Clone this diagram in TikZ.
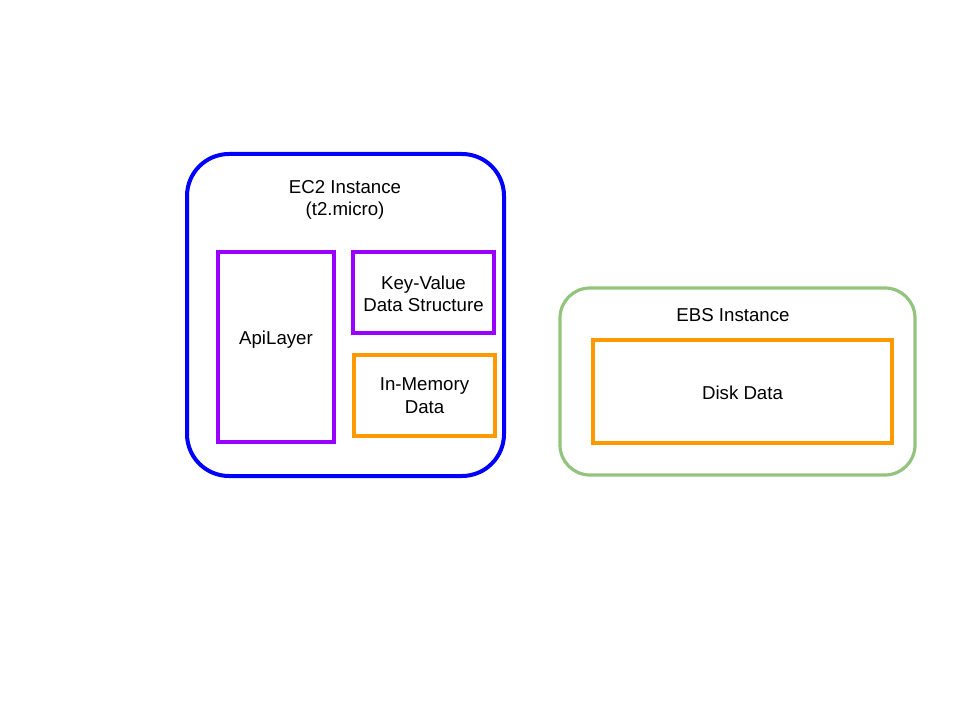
\documentclass[tikz,border=0pt]{standalone}
\usepackage{fontspec}
\setmainfont{Liberation Sans}
\definecolor{ecblue}{HTML}{0000FF}
\definecolor{kvpurple}{HTML}{9900FF}
\definecolor{memorange}{HTML}{FF9900}
\definecolor{ebsgreen}{HTML}{93C47D}
\begin{document}
\begin{tikzpicture}[x=0.75pt,y=-0.75pt,
  every node/.style={font=\fontsize{14pt}{16.8pt}\selectfont, align=center, inner sep=0pt},
  outerbox/.style={draw, rectangle, line width=#1},
  innerbox/.style={draw, rectangle, line width=2.4pt},
]
\useasboundingbox (0,0) rectangle (960,720);
% EC2
\node[outerbox=3pt, draw=ecblue, rounded corners=31.5pt, minimum width=237.75pt, minimum height=241.5pt] (ec2) at (345.5,315) {};
\node (ec2title) at (345,200) {EC2 Instance\\(t2.micro)};
\node[innerbox, draw=kvpurple, minimum width=87pt, minimum height=142.5pt] (api) at (276,347) {};
\node (apitext) at (276,340) {ApiLayer};
\node[innerbox, draw=kvpurple, minimum width=105.75pt, minimum height=60.75pt] (kv) at (423.5,292.5) {};
\node (kvtext) at (423.5,294) {Key-Value\\Data Structure};
\node[innerbox, draw=memorange, minimum width=105.75pt, minimum height=60.75pt] (mem) at (424.5,395.5) {In-Memory\\Data};
% EBS
\node[outerbox=2.4pt, draw=ebsgreen, rounded corners=22.5pt, minimum width=266.25pt, minimum height=140.25pt] (ebs) at (737.5,381.5) {};
\node (ebstitle) at (733,315) {EBS Instance};
\node[innerbox, draw=memorange, minimum width=224.25pt, minimum height=77.25pt] (disk) at (742.5,391.5) {};
\node (disktext) at (742.5,392.5) {Disk Data};
\end{tikzpicture}
\end{document}
